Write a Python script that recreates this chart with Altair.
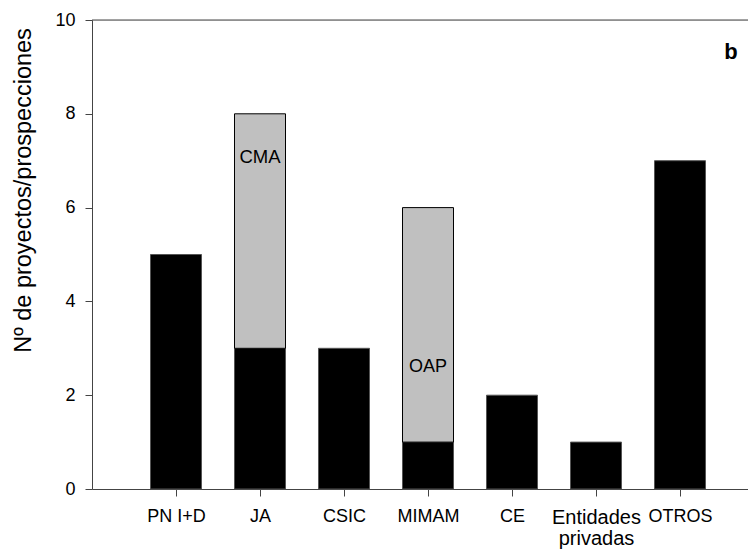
import json
import altair as alt
import pandas as pd

# ---- data ----
categories = ["PN I+D", "JA", "CSIC", "MIMAM", "CE", "Entidades privadas", "OTROS"]
base_values = [5, 3, 3, 1, 2, 1, 7]          # black part
upper_values = [0, 5, 0, 5, 0, 0, 0]         # grey part stacked on top
upper_labels = ["", "CMA", "", "OAP", "", "", ""]
y_ticks = [0, 2, 4, 6, 8, 10]
panel_letter = "b"
y_title = "Nº de proyectos/prospecciones"

df = pd.DataFrame({
    "cat": categories,
    "pos": list(range(1, len(categories) + 1)),
    "base": base_values,
    "upper": upper_values,
    "lab": upper_labels,
})
df["total"] = df["base"] + df["upper"]

W, H = 656, 469
STEP = 84
FONT = "Liberation Sans"
AX = "#444444"

label_list = [c.split(" ") if c == "Entidades privadas" else c for c in categories]
label_expr = f"{json.dumps(label_list)}[datum.value - 1]"
two_line_pos = categories.index("Entidades privadas") + 1

xscale = alt.Scale(domain=[0, W / STEP], nice=False, zero=False, padding=0)
yscale = alt.Scale(domain=[0, 10], nice=False, padding=0)

xaxis = alt.Axis(values=list(range(1, len(categories) + 1)), labelExpr=label_expr,
                 title=None, grid=False, tickSize=7, labelPadding=11,
                 labelFontSize={"condition": {"test": f"datum.value == {two_line_pos}",
                                              "value": 20}, "value": 18},
                 labelFont=FONT, labelColor="black",
                 labelLineHeight=21, domainColor=AX, tickColor=AX,
                 labelBaseline="top", labelFlush=False, labelOverlap=False)
yaxis = alt.Axis(values=y_ticks, title=y_title, grid=False, tickSize=7,
                 labelPadding=10, labelFontSize=18, labelFont=FONT,
                 labelColor="black", titleFont=FONT, titleFontSize=23.5,
                 titleFontWeight="normal", titleColor="black", titlePadding=19,
                 titleY=170, domainColor=AX, tickColor=AX)

base = alt.Chart(df)

black_bars = base.mark_bar(size=51, color="black", stroke="#555555",
                           strokeWidth=1).encode(
    x=alt.X("pos:Q", scale=xscale, axis=xaxis),
    y=alt.Y("base:Q", scale=yscale, axis=yaxis),
)

grey_bars = base.transform_filter("datum.upper > 0").mark_bar(
    size=51, fill="#c0c0c0", stroke="black", strokeWidth=1).encode(
    x="pos:Q", y="base:Q", y2="total:Q"
)

cma_text = base.transform_filter("datum.lab == 'CMA'").mark_text(
    font=FONT, fontSize=18.5, color="black", dy=43, baseline="middle").encode(
    x="pos:Q", y="total:Q", text="lab:N"
)
oap_text = base.transform_filter("datum.lab == 'OAP'").mark_text(
    font=FONT, fontSize=18, color="black", dy=-75, baseline="middle").encode(
    x="pos:Q", y="base:Q", text="lab:N"
)

top_line = alt.Chart(pd.DataFrame({"v": [y_ticks[-1]]})).mark_rule(
    color=AX, strokeWidth=1).encode(y=alt.Y("v:Q", scale=yscale))

letter = alt.Chart(pd.DataFrame({"t": [panel_letter]})).mark_text(
    font=FONT, fontSize=22, fontWeight="bold", color="black",
    baseline="middle", align="center").encode(
    x=alt.value(639), y=alt.value(32), text="t:N")

chart = alt.layer(top_line, black_bars, grey_bars, cma_text, oap_text, letter).properties(
    width=W, height=H,
    padding={"left": 84, "top": 12, "right": 0, "bottom": 60},
    autosize=alt.AutoSizeParams(type="none"),
).configure_view(stroke=None).configure(background="white")

chart.save("out.html", embed_options={"renderer": "svg", "actions": False})
